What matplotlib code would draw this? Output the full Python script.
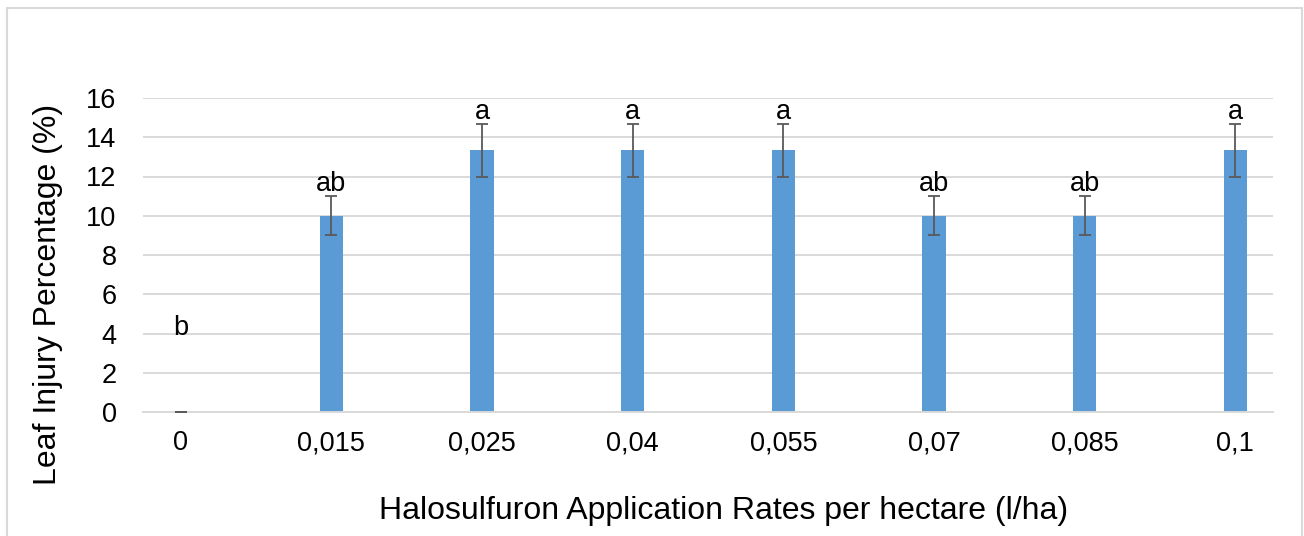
import matplotlib.pyplot as plt
from matplotlib.patches import Rectangle

# data
rates = ["0", "0,015", "0,025", "0,04", "0,055", "0,07", "0,085", "0,1"]
injury = [0, 10, 13.33, 13.33, 13.33, 10, 10, 13.33]
std_err = [0, 1, 1.33, 1.33, 1.33, 1, 1, 1.33]
letters = ["b", "ab", "a", "a", "a", "ab", "ab", "a"]
zero_label_y = 3.9  # Excel put the "b" label up here

plt.rcParams['font.family'] = ['Liberation Sans', 'DejaVu Sans']

fig = plt.figure(figsize=(13.04, 5.36), dpi=100)
W, H = 1304, 536
ax = fig.add_axes([143 / W, 124 / H, 1130 / W, 314 / H])

x = list(range(len(rates)))
ax.bar(x, injury, width=0.155, color='#5B9BD5', zorder=2)
ax.errorbar(x, injury, yerr=std_err, fmt='none', ecolor='#595959',
            elinewidth=1.3, capsize=4.5, capthick=1.3, zorder=3)

for i, lab in enumerate(letters):
    if injury[i] == 0:
        ax.text(i, zero_label_y, lab, ha='center', va='baseline', fontsize=19.5)
    else:
        ax.annotate(lab, (i, injury[i] + std_err[i]), xytext=(0, 4),
                    textcoords='offset points', ha='center', va='baseline',
                    fontsize=19.5)

ax.set_xlim(-0.25, 7.25)
ax.set_ylim(0, 16)
ax.set_yticks(range(0, 17, 2))
ax.set_xticks(x)
ax.set_xticklabels(rates)
ax.tick_params(axis='both', length=0, labelsize=19.5)
ax.tick_params(axis='x', pad=13)
ax.tick_params(axis='y', pad=19)
ax.grid(axis='y', color='#D9D9D9', linewidth=1.4, zorder=0)
for s in ['top', 'right', 'left']:
    ax.spines[s].set_visible(False)
ax.spines['bottom'].set_color('#D9D9D9')
ax.spines['bottom'].set_linewidth(1.4)

ax.set_xlabel('Halosulfuron Application Rates per hectare (l/ha)', fontsize=23)
ax.set_ylabel('Leaf Injury Percentage (%)', fontsize=23)
ax.xaxis.set_label_coords(0.514, -0.315)
ax.xaxis.label.set_va('center')
ax.yaxis.set_label_coords(-0.084, 0.373)
ax.yaxis.label.set_va('center')

# light chart border
fig.patches.append(Rectangle((7 / W, -0.1), 1295 / W, 1.1 - 8 / H,
                             transform=fig.transFigure, fill=False,
                             edgecolor='#D9D9D9', linewidth=1.5))

fig.savefig('out.png', dpi=100)
